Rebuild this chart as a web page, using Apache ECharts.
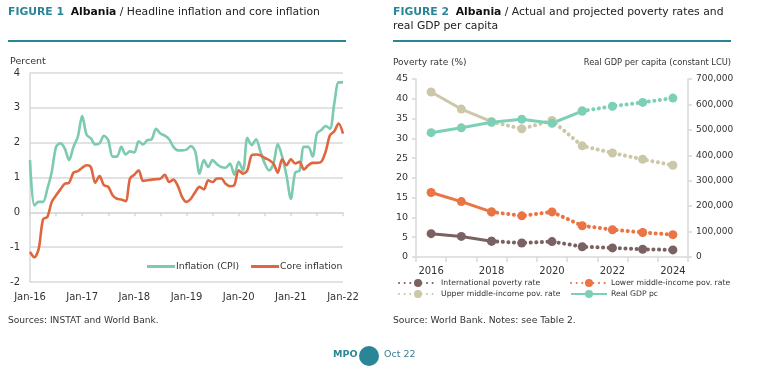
<!DOCTYPE html>
<html><head><meta charset="utf-8">
<script src="https://cdn.jsdelivr.net/npm/echarts@6/dist/echarts.min.js"></script>
<style>html,body{margin:0;padding:0;background:#fff}#c{width:758px;height:379px}</style>
</head><body><div id="c"></div>
<script>
// ---- Figure 1 data (monthly, Jan-16 .. Jan-22) ----
const monthNames = ['Jan','Feb','Mar','Apr','May','Jun','Jul','Aug','Sep','Oct','Nov','Dec'];
const yearsShort = ['16','17','18','19','20','21','22'];
const cpi = [1.5,0.2,0.3,0.3,0.68,1.16,1.88,1.98,1.83,1.5,1.88,2.17,
  2.77,2.23,2.12,1.95,1.98,2.2,2.07,1.6,1.6,1.88,1.66,1.75,
  1.72,2.04,1.95,2.07,2.1,2.4,2.26,2.2,2.1,1.88,1.78,1.78,
  1.8,1.9,1.75,1.11,1.5,1.3,1.5,1.38,1.3,1.28,1.4,1.08,
  1.45,1.2,2.14,1.93,2.1,1.75,1.4,1.2,1.4,1.96,1.6,1.06,
  0.39,1.14,1.2,1.88,1.88,1.6,2.26,2.36,2.48,2.4,3.13,3.73,
  3.73];
const core = [-1.14,-1.29,-1.05,-0.2,-0.13,0.3,0.49,0.66,0.82,0.85,1.14,1.18,
  1.28,1.35,1.3,0.85,1.04,0.78,0.73,0.49,0.39,0.37,0.32,0.97,
  1.08,1.21,0.9,0.92,0.94,0.95,0.97,1.08,0.87,0.94,0.76,0.44,
  0.3,0.39,0.58,0.73,0.66,0.92,0.87,0.97,0.97,0.82,0.75,0.78,
  1.21,1.11,1.21,1.64,1.66,1.64,1.56,1.5,1.4,1.14,1.52,1.35,
  1.52,1.4,1.45,1.23,1.35,1.42,1.42,1.45,1.74,2.21,2.33,2.55,
  2.26];

// ---- Figure 2 data ----
const years = ['2016','2017','2018','2019','2020','2021','2022','2023','2024'];
const intlPov  = [5.9,5.2,4.0,3.55,3.9,2.6,2.3,1.95,1.8];
const lowerPov = [16.3,14.0,11.4,10.4,11.4,7.9,6.9,6.2,5.65];
const upperPov = [41.7,37.4,34.2,32.4,34.5,28.1,26.3,24.7,23.2];
const gdpPc    = [489000,508000,530000,542000,526000,574000,593000,608000,625000];

const months = [];
yearsShort.forEach(y => monthNames.forEach(m => months.push(m + '-' + y)));
months.length = cpi.length;

function split(arr, lastActual) {
  return [arr.map((v,i)=> i<=lastActual ? v : null), arr.map((v,i)=> i>=lastActual ? v : null)];
}
const [intlA, intlP] = split(intlPov, 2);
const [lowA, lowP] = split(lowerPov, 2);
const [upA, upP] = split(upperPov, 2);
const [gdpA, gdpP] = split(gdpPc, 5);

const FONT = 'DejaVu Sans';
const TEAL = '#2a8597';
const C_CPI = '#7ccbaf', C_CORE = '#e0663f';
const C_INTL = '#7b6262', C_LOW = '#ea7444', C_UP = '#cbc8a8', C_GDP = '#7dd0b8';
const txt = '#333';
const gridCol = '#d9d9d9';
const dotted = { type: [0.1, 5.5], cap: 'round', width: 4 };

function povSeries(name, data, color, isProj, yIdx) {
  return {
    name, type: 'line', data, xAxisIndex: 2, yAxisIndex: yIdx,
    symbol: 'circle', symbolSize: 9, connectNulls: false,
    itemStyle: { color },
    lineStyle: isProj ? Object.assign({ color }, dotted) : { color, width: 3 },
    z: 3
  };
}

const chart = echarts.init(document.getElementById('c'), null, { renderer: 'canvas' });
chart.setOption({
  animation: false,
  textStyle: { fontFamily: FONT },
  grid: [
    { left: 30, top: 73, width: 313, height: 209 },
    { left: 416, top: 79, width: 272, height: 178 }
  ],
  xAxis: [
    { gridIndex: 0, type: 'category', data: months, boundaryGap: false, position: 'bottom',
      axisLine: { show: false, onZero: false }, axisTick: { show: false },
      axisLabel: { interval: 11, color: txt, fontSize: 10, fontFamily: FONT, margin: 10 },
      splitLine: { show: false } },
    { gridIndex: 0, type: 'category', data: months, boundaryGap: false, position: 'bottom',
      axisLine: { show: true, onZero: true, lineStyle: { color: gridCol, width: 1.5 } },
      axisTick: { show: true, interval: 5, length: 4, lineStyle: { color: gridCol, width: 1.5 } },
      axisLabel: { show: false }, splitLine: { show: false } },
    { gridIndex: 1, type: 'category', data: years, boundaryGap: true,
      axisLine: { show: true, lineStyle: { color: gridCol, width: 1.5 } },
      axisTick: { show: true, interval: 0, length: 5, lineStyle: { color: gridCol, width: 1.5 } },
      axisLabel: { interval: 1, color: txt, fontSize: 10, fontFamily: FONT, margin: 9 },
      splitLine: { show: false } }
  ],
  yAxis: [
    { gridIndex: 0, type: 'value', min: -2, max: 4, interval: 1,
      name: 'Percent', nameLocation: 'end', nameGap: 6,
      nameTextStyle: { color: txt, fontSize: 9.5, fontFamily: FONT, align: 'left', padding: [0,0,0,-20] },
      axisLine: { show: true, lineStyle: { color: gridCol, width: 1.5 } },
      axisTick: { show: false },
      axisLabel: { color: txt, fontSize: 10, fontFamily: FONT, margin: 10 },
      splitLine: { show: true, lineStyle: { color: gridCol, width: 1.5 } } },
    { gridIndex: 1, type: 'value', min: 0, max: 45, interval: 5,
      name: 'Poverty rate (%)', nameLocation: 'end', nameGap: 12,
      nameTextStyle: { color: txt, fontSize: 9, fontFamily: FONT, align: 'left', padding: [0,0,0,-23] },
      axisLine: { show: true, lineStyle: { color: gridCol, width: 1.5 } },
      axisTick: { show: true, length: 4, lineStyle: { color: gridCol, width: 1.5 } },
      axisLabel: { color: txt, fontSize: 9.5, fontFamily: FONT, margin: 8 },
      splitLine: { show: false } },
    { gridIndex: 1, type: 'value', min: 0, max: 700000, interval: 100000, position: 'right',
      name: 'Real GDP per capita (constant LCU)', nameLocation: 'end', nameGap: 12,
      nameTextStyle: { color: txt, fontSize: 8.3, fontFamily: FONT, align: 'right', padding: [0,-43,0,0] },
      axisLine: { show: true, lineStyle: { color: gridCol, width: 1.5 } },
      axisTick: { show: true, length: 4, lineStyle: { color: gridCol, width: 1.5 } },
      axisLabel: { color: txt, fontSize: 9, fontFamily: FONT, margin: 8 },
      splitLine: { show: false } }
  ],
  legend: [
    { left: 147, top: 262, padding: 0, icon: 'rect', itemWidth: 28, itemHeight: 3, itemGap: 12,
      data: ['Inflation (CPI)', 'Core inflation'],
      textStyle: { color: txt, fontSize: 9.3, fontFamily: FONT, padding: [0,0,0,-4] } },
    { left: 398, top: 279, padding: 0, orient: 'vertical', itemWidth: 38, itemHeight: 10, itemGap: 3,
      data: ['International poverty rate', 'Upper middle-income pov. rate'],
      textStyle: { color: txt, fontSize: 7.7, fontFamily: FONT, padding: [0,0,0,-1] } },
    { left: 570, top: 279, padding: 0, orient: 'vertical', itemWidth: 36, itemHeight: 10, itemGap: 3,
      data: ['Lower middle-income pov. rate', 'Real GDP pc'],
      textStyle: { color: txt, fontSize: 7.7, fontFamily: FONT, padding: [0,0,0,-1] } }
  ],
  series: [
    { name: 'Inflation (CPI)', type: 'line', data: cpi, xAxisIndex: 0, yAxisIndex: 0,
      symbol: 'none', smooth: 0.3, lineStyle: { color: C_CPI, width: 2.6 }, itemStyle: { color: C_CPI } },
    { name: 'Core inflation', type: 'line', data: core, xAxisIndex: 0, yAxisIndex: 0,
      symbol: 'none', smooth: 0.3, lineStyle: { color: C_CORE, width: 2.6 }, itemStyle: { color: C_CORE } },
    povSeries('Upper middle-income (actual)', upA, C_UP, false, 1),
    povSeries('Upper middle-income pov. rate', upP, C_UP, true, 1),
    povSeries('Real GDP pc', gdpA, C_GDP, false, 2),
    povSeries('Real GDP pc (proj)', gdpP, C_GDP, true, 2),
    povSeries('Lower middle-income (actual)', lowA, C_LOW, false, 1),
    povSeries('Lower middle-income pov. rate', lowP, C_LOW, true, 1),
    povSeries('International (actual)', intlA, C_INTL, false, 1),
    povSeries('International poverty rate', intlP, C_INTL, true, 1)
  ],
  graphic: [
    { type: 'text', left: 8, top: 6, style: {
        text: '{a|FIGURE 1}  {b|Albania} {c|/ Headline inflation and core inflation}',
        rich: { a: { fontFamily: FONT, fontWeight: 'bold', fontSize: 10.8, fill: TEAL },
                b: { fontFamily: FONT, fontWeight: 'bold', fontSize: 10.8, fill: '#111' },
                c: { fontFamily: FONT, fontSize: 10.8, fill: '#222' } } } },
    { type: 'text', left: 393, top: 6, style: {
        text: '{a|FIGURE 2}  {b|Albania} {c|/ Actual and projected poverty rates and}\n{c|real GDP per capita}',
        rich: { a: { fontFamily: FONT, fontWeight: 'bold', fontSize: 10.8, fill: TEAL, lineHeight: 14 },
                b: { fontFamily: FONT, fontWeight: 'bold', fontSize: 10.8, fill: '#111', lineHeight: 14 },
                c: { fontFamily: FONT, fontSize: 10.8, fill: '#222', lineHeight: 14 } } } },
    { type: 'rect', shape: { x: 8, y: 40, width: 338, height: 2 }, style: { fill: TEAL } },
    { type: 'rect', shape: { x: 393, y: 40, width: 338, height: 2 }, style: { fill: TEAL } },
    { type: 'text', left: 8, top: 316, style: { text: 'Sources: INSTAT and World Bank.', fontFamily: FONT, fontSize: 9.1, fill: txt } },
    { type: 'text', left: 393, top: 316, style: { text: 'Source: World Bank. Notes: see Table 2.', fontFamily: FONT, fontSize: 9.2, fill: txt } },
    { type: 'text', left: 333, top: 350, style: { text: 'MPO', fontFamily: FONT, fontWeight: 'bold', fontSize: 9.5, fill: TEAL } },
    { type: 'circle', shape: { cx: 369, cy: 356, r: 10 }, style: { fill: TEAL } },
    { type: 'text', left: 384, top: 350, style: { text: 'Oct 22', fontFamily: FONT, fontSize: 9.5, fill: '#3b7f91' } }
  ]
});
</script></body></html>
